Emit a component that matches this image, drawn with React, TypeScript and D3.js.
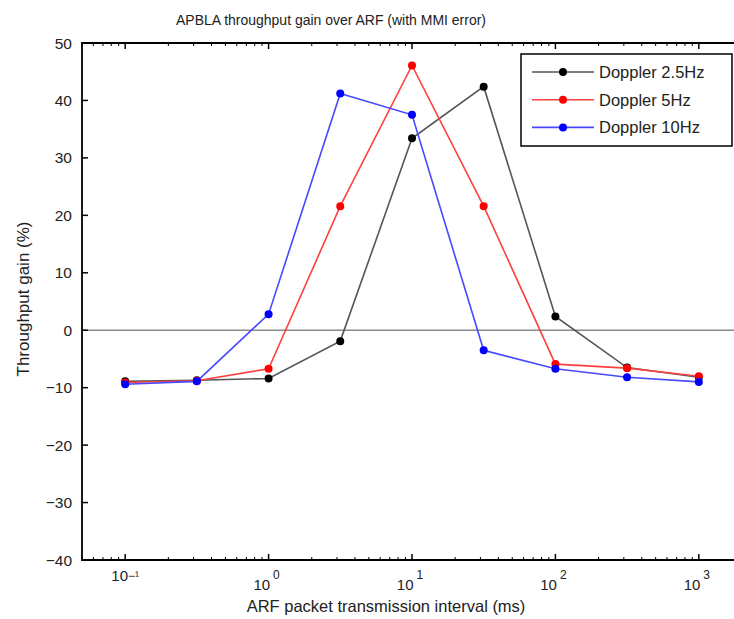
import React, { useEffect, useRef } from "react";
import * as d3 from "d3";

const intervals = [0.1, 0.316, 1, 3.16, 10, 31.6, 100, 316, 1000];
const doppler25 = [-8.9, -8.7, -8.4, -1.9, 33.4, 42.4, 2.4, -6.5, -8.2];
const doppler5 = [-9.1, -8.8, -6.7, 21.6, 46.1, 21.6, -5.9, -6.6, -8.0];
const doppler10 = [-9.4, -8.9, 2.8, 41.2, 37.5, -3.5, -6.7, -8.2, -9.0];

const seriesNames = ["Doppler 2.5Hz", "Doppler 5Hz", "Doppler 10Hz"];
const seriesValues = [doppler25, doppler5, doppler10];
const lineColors = ["#555555", "#ff4040", "#4848ff"];
const dotColors = ["#000000", "#ff0000", "#0000ff"];

const xMajorTicks = [0.1, 1, 10, 100, 1000];
const xTickExponents = ["\u2212\u00b9", "0", "1", "2", "3"];
const yTicks = [-40, -30, -20, -10, 0, 10, 20, 30, 40, 50];

export default function App() {
  const svgRef = useRef<SVGSVGElement>(null);

  useEffect(() => {
    if (!svgRef.current) return;
    const svg = d3.select(svgRef.current);
    svg.selectAll("*").remove();

    const left = 82;
    const right = 742;
    const top = 43;
    const bottom = 560;
    const font = "'Liberation Sans', Arial, sans-serif";
    const ink = "#222";

    const x = d3.scaleLog().domain([0.05, 2000]).range([left, right]);
    const y = d3.scaleLinear().domain([-40, 50]).range([bottom, top]);

    // zero line
    svg.append("line")
      .attr("x1", left).attr("x2", right)
      .attr("y1", y(0)).attr("y2", y(0))
      .attr("stroke", "#8a8a8a").attr("stroke-width", 1.5);

    // minor ticks from the log scale
    const minor = x.ticks().filter((t) => !xMajorTicks.includes(t));
    minor.forEach((t) => {
      svg.append("line").attr("x1", x(t)).attr("x2", x(t))
        .attr("y1", bottom).attr("y2", bottom - 3)
        .attr("stroke", "#000").attr("stroke-width", 1);
      svg.append("line").attr("x1", x(t)).attr("x2", x(t))
        .attr("y1", top).attr("y2", top + 3)
        .attr("stroke", "#000").attr("stroke-width", 1);
    });
    xMajorTicks.forEach((t, i) => {
      svg.append("line").attr("x1", x(t)).attr("x2", x(t))
        .attr("y1", bottom).attr("y2", bottom - 6)
        .attr("stroke", "#000").attr("stroke-width", 1.5);
      svg.append("line").attr("x1", x(t)).attr("x2", x(t))
        .attr("y1", top).attr("y2", top + 6)
        .attr("stroke", "#000").attr("stroke-width", 1.5);
      const first = i === 0;
      const label = svg.append("text")
        .attr("x", first ? x(t) : x(t) - 2)
        .attr("y", first ? 581 : 590)
        .attr("text-anchor", "middle")
        .attr("font-family", font)
        .attr("font-size", 15)
        .attr("fill", ink);
      label.append("tspan").text("10");
      label.append("tspan")
        .attr("dx", first ? 0 : 3)
        .attr("dy", first ? -1 : -11)
        .attr("font-size", 12)
        .text(xTickExponents[i]);
    });

    yTicks.forEach((t) => {
      if (t !== 50 && t !== -40) {
        svg.append("line").attr("x1", left).attr("x2", left + 6)
          .attr("y1", y(t)).attr("y2", y(t))
          .attr("stroke", "#000").attr("stroke-width", 1.5);
      }
      svg.append("text")
        .attr("x", 72)
        .attr("y", y(t) + 5.5)
        .attr("text-anchor", "end")
        .attr("font-family", font)
        .attr("font-size", 15.5)
        .attr("fill", ink)
        .text(d3.format("")(t).replace("-", "\u2212 "));
    });

    // frame
    svg.append("path")
      .attr("d", `M${right},${top}H${left}V${bottom}H${right}`)
      .attr("fill", "none").attr("stroke", "#000").attr("stroke-width", 1.8);

    const line = d3.line<number>()
      .x((_, i) => x(intervals[i]))
      .y((d) => y(d));

    seriesValues.forEach((vals, s) => {
      svg.append("path")
        .datum(vals)
        .attr("fill", "none")
        .attr("stroke", lineColors[s])
        .attr("stroke-width", 1.6)
        .attr("d", line);
      svg.selectAll(null)
        .data(vals)
        .enter()
        .append("circle")
        .attr("cx", (_, i) => x(intervals[i]))
        .attr("cy", (d) => y(d))
        .attr("r", 4)
        .attr("fill", dotColors[s]);
    });

    // legend
    const lg = svg.append("g");
    lg.append("rect")
      .attr("x", 521).attr("y", 54).attr("width", 211).attr("height", 92)
      .attr("fill", "#fff").attr("stroke", "#000").attr("stroke-width", 1.5);
    seriesNames.forEach((name, s) => {
      const ly = 72 + s * 27.7;
      lg.append("line").attr("x1", 532).attr("x2", 594)
        .attr("y1", ly).attr("y2", ly)
        .attr("stroke", lineColors[s]).attr("stroke-width", 1.6);
      lg.append("circle").attr("cx", 563).attr("cy", ly).attr("r", 4)
        .attr("fill", dotColors[s]);
      lg.append("text").attr("x", 599).attr("y", ly + 6)
        .attr("font-family", font).attr("font-size", 16.5).attr("fill", ink)
        .text(name);
    });

    svg.append("text")
      .attr("x", 331).attr("y", 25)
      .attr("text-anchor", "middle")
      .attr("font-family", font).attr("font-size", 15.5).attr("fill", ink)
      .attr("textLength", 310)
      .attr("lengthAdjust", "spacingAndGlyphs")
      .text("APBLA throughput gain over ARF  (with MMI error)");

    svg.append("text")
      .attr("x", 386).attr("y", 612)
      .attr("text-anchor", "middle")
      .attr("font-family", font).attr("font-size", 16.5).attr("fill", ink)
      .text("ARF packet transmission interval (ms)");

    svg.append("text")
      .attr("transform", `translate(29,${299}) rotate(-90)`)
      .attr("text-anchor", "middle")
      .attr("font-family", font).attr("font-size", 17).attr("fill", ink)
      .text("Throughput gain (%)");
  }, []);

  return (
    <div style={{ position: "absolute", left: 0, top: 0, background: "#fff" }}>
      <svg ref={svgRef} width={734} height={619} style={{ display: "block" }} />
    </div>
  );
}
